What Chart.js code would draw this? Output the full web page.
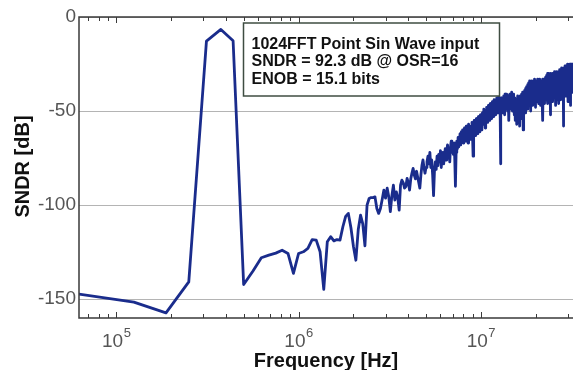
<!DOCTYPE html>
<html>
<head>
<meta charset="utf-8">
<script src="https://cdn.jsdelivr.net/npm/chart.js@4.4.1/dist/chart.umd.min.js"></script>
<style>
  html, body { margin: 0; padding: 0; background: #fff; }
</style>
</head>
<body>
<canvas id="fft" width="574" height="370"></canvas>
<script>
// FFT bin spacing (1024 points) and the x range shown
const binHz = 62500;
const xMin = 62500, xMax = 32000000;

// SNDR per bin, bin 1 .. 512 (dB)
const sndr = [
  -147.3, -151.6, -157.3, -140.8, -12.8, -6.6, -12.6, -142.2, -135, -128, -126.6, -125.5, -124, -125.7, -136.3, -125.7,
  -124.8, -123, -118.3, -118.6, -124.8, -144.8, -119.5, -116.8, -119, -118.3, -118.6, -111.5, -106, -104.4, -112, -122,
  -129.3, -113, -105.3, -110, -121.6, -100, -96.5, -96, -96, -95.6, -101.8, -104.4, -101.8, -97, -92, -96.3,
  -91, -95.6, -103.5, -95, -89.4, -97.3, -93, -96, -102.7, -89.4, -86.7, -88, -91, -90.2, -85.8, -88,
  -92, -86, -83, -80.5, -84, -86, -82, -85, -88, -91, -84, -79, -76, -80, -83, -80, -77, -74,
  -78, -72, -80, -76, -84, -95, -82, -77, -81, -74,
  -79, -73, -77, -71, -80, -75, -72, -78, -74, -70,
  -76, -71, -68, -74, -70, -77, -69, -66, -72, -68,
  -73, -67, -75, -90, -72, -66, -70, -64, -69, -66,
  -62, -68, -61, -65, -60, -67, -63, -59, -66, -62,
  -58, -64, -60, -67, -57, -62, -59, -65, -58, -61,
  -56, -63, -74, -59, -55, -61, -57, -63, -54, -59,
  -56, -62, -53, -58, -55, -61, -52, -57, -54, -60,
  -51, -57, -53, -49, -56, -52, -59, -50, -55, -48,
  -53, -50, -56, -47, -52, -49, -55, -46, -51, -54,
  -48, -52, -45, -50, -47, -53, -44, -49, -46, -52,
  -45, -50, -43, -48, -46, -51, -44, -49, -42, -47,
  -45, -50, -78, -47, -43, -49, -45, -51, -44, -48,
  -42, -47, -44, -52, -41, -46, -43, -49, -45, -41,
  -47, -43, -50, -42, -46, -55, -44, -41, -47, -43,
  -49, -42, -45, -40, -47, -43, -50, -44, -41, -46,
  -44, -52, -47, -43, -55, -46, -50, -44, -57, -48,
  -45, -53, -42, -49, -56, -44, -51, -47, -58, -45,
  -42, -50, -46, -54, -41, -48, -44, -52, -40, -47,
  -60, -45, -42, -50, -39, -46, -43, -51, -38, -45,
  -41, -48, -37, -44, -40, -49, -36, -43, -39, -47,
  -35, -42, -38, -46, -34, -41, -37, -50, -35, -40,
  -36, -44, -34, -39, -47, -35, -41, -37, -45, -34,
  -40, -36, -43, -33, -39, -48, -35, -41, -37, -44,
  -34, -40, -36, -45, -33, -39, -35, -42, -37, -46,
  -34, -41, -36, -44, -33, -39, -47, -35, -41, -37,
  -43, -34, -40, -36, -45, -33, -39, -55, -37, -42,
  -35, -41, -33, -38, -46, -34, -40, -36, -43, -32,
  -38, -35, -44, -31, -37, -33, -41, -30, -36, -46,
  -33, -39, -31, -43, -35, -30, -38, -34, -42, -31,
  -37, -52, -33, -39, -30, -36, -44, -32, -38, -34,
  -41, -30, -36, -33, -45, -31, -37, -34, -40, -30,
  -35, -32, -43, -29, -36, -33, -47, -31, -38, -34,
  -30, -39, -33, -44, -29, -35, -31, -41, -34, -30,
  -37, -32, -46, -29, -35, -31, -40, -33, -28, -36,
  -32, -42, -29, -35, -31, -44, -28, -34, -30, -38,
  -32, -27, -36, -31, -43, -29, -34, -30, -39, -28,
  -33, -58, -30, -36, -27, -32, -41, -29, -35, -31,
  -26, -34, -30, -42, -28, -33, -29, -37, -27, -32,
  -29, -40, -26, -31, -28, -36, -25, -30, -45, -28,
  -33, -27, -38, -26, -31, -28, -42, -27, -32, -29,
  -25, -35, -28, -47, -26, -30, -27, -37, -25, -29,
  -26, -33, -28, -40, -25, -30, -27, -35, -26, -31
];

const yTicks = [-150, -100, -50, 0];
const xDecades = [5, 6, 7];
const noteLines = [
  '1024FFT Point Sin Wave input',
  'SNDR = 92.3 dB @ OSR=16',
  'ENOB = 15.1 bits'
];

const FONT = '"Liberation Sans", Arial, sans-serif';

// frame, inward log ticks, superscript labels, titles and the text box
const decor = {
  id: 'decor',
  afterDraw(chart) {
    const { ctx, chartArea: a, scales: { x } } = chart;
    ctx.save();

    ctx.strokeStyle = '#3a3a3a';
    ctx.lineWidth = 1.5;
    ctx.beginPath();
    ctx.moveTo(a.right, a.top);
    ctx.lineTo(a.left, a.top);
    ctx.lineTo(a.left, a.bottom);
    ctx.lineTo(a.right, a.bottom);
    ctx.stroke();

    ctx.lineWidth = 1;
    x.ticks.forEach(t => {
      const px = Math.round(x.getPixelForValue(t.value)) + 0.5;
      const len = t.major ? 6 : 4;
      ctx.beginPath();
      ctx.moveTo(px, a.bottom);
      ctx.lineTo(px, a.bottom - len);
      ctx.moveTo(px, a.top);
      ctx.lineTo(px, a.top + len);
      ctx.stroke();
    });

    // 10^n labels
    ctx.fillStyle = '#555';
    ctx.textBaseline = 'alphabetic';
    ctx.textAlign = 'left';
    xDecades.forEach(e => {
      const px = x.getPixelForValue(Math.pow(10, e));
      ctx.font = '19px ' + FONT;
      const w1 = ctx.measureText('10').width;
      ctx.font = '13px ' + FONT;
      const w2 = ctx.measureText(String(e)).width;
      const x0 = px - (w1 + w2) / 2;
      ctx.font = '19px ' + FONT;
      ctx.fillText('10', x0, 347);
      ctx.font = '13px ' + FONT;
      ctx.fillText(String(e), x0 + w1 + 0.5, 337);
    });

    // axis titles
    ctx.fillStyle = '#111';
    ctx.font = 'bold 20px ' + FONT;
    ctx.textAlign = 'center';
    ctx.fillText('Frequency [Hz]', 326, 367);
    ctx.save();
    ctx.translate(23.5, 166.5);
    ctx.rotate(-Math.PI / 2);
    ctx.textBaseline = 'middle';
    ctx.fillText('SNDR [dB]', 0, 0);
    ctx.restore();

    // annotation box
    ctx.fillStyle = '#fff';
    ctx.fillRect(243.5, 23, 256, 73);
    ctx.strokeStyle = '#3f4d42';
    ctx.lineWidth = 1.5;
    ctx.strokeRect(243.5, 23, 256, 73);
    ctx.fillStyle = '#111';
    ctx.font = 'bold 16px ' + FONT;
    ctx.textAlign = 'left';
    noteLines.forEach((s, i) => ctx.fillText(s, 251.5, 48.5 + i * 17.5));

    ctx.restore();
  }
};

new Chart(document.getElementById('fft'), {
  type: 'line',
  data: {
    datasets: [{
      data: sndr.map((v, i) => ({ x: (i + 1) * binHz, y: v })),
      borderColor: '#1a2c8c',
      borderWidth: 2.8,
      borderJoinStyle: 'round',
      borderCapStyle: 'round',
      pointRadius: 0,
      tension: 0,
      fill: false
    }]
  },
  options: {
    responsive: false,
    animation: false,
    layout: { padding: { top: 17, right: 1, left: 0, bottom: 0 } },
    plugins: { legend: { display: false }, tooltip: { enabled: false } },
    scales: {
      x: {
        type: 'logarithmic',
        min: xMin,
        max: xMax,
        grid: { display: false },
        border: { display: false },
        ticks: { display: false },
        afterBuildTicks: s => {
          const list = [];
          for (let e = 4; e <= 7; e++) {
            for (let m = 1; m <= 9; m++) {
              const v = m * Math.pow(10, e);
              if (v >= xMin && v <= xMax) list.push({ value: v, major: m === 1 });
            }
          }
          s.ticks = list;
        },
        afterFit: s => { s.height = 52; }
      },
      y: {
        min: -160,
        max: 0,
        afterBuildTicks: s => { s.ticks = yTicks.map(v => ({ value: v })); },
        grid: { color: '#b4b4b4', lineWidth: 1, drawTicks: false },
        border: { display: false },
        ticks: { color: '#555', padding: 3, font: { size: 19, family: FONT } },
        afterFit: s => { s.width = 79; }
      }
    }
  },
  plugins: [decor]
});
</script>
</body>
</html>
